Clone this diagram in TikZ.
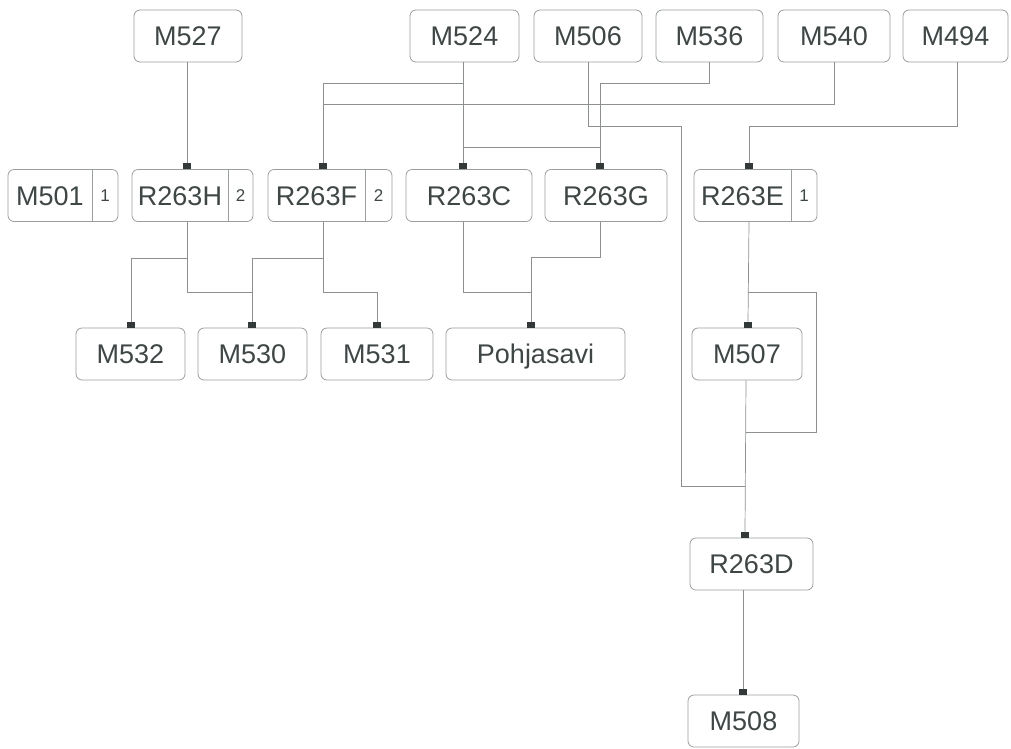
\documentclass[tikz,border=0pt]{standalone}
\usepackage{fontspec}
\setmainfont{Liberation Sans}
\definecolor{txt}{HTML}{3E4646}
\definecolor{edge}{HTML}{9A9E9E}
\definecolor{wire}{HTML}{8C9090}
\definecolor{mk}{HTML}{333838}
\begin{document}
\begin{tikzpicture}[x=1pt,y=-1pt,
  box/.style={draw=edge,line width=0.8pt,rounded corners=6pt,minimum height=52pt,inner sep=0pt,
    font=\fontsize{27}{32}\selectfont,text=txt,text height=19pt,text depth=-2pt},
  num/.style={inner sep=0pt,font=\fontsize{17}{20}\selectfont,text=txt,text height=12pt,text depth=-2pt},
  lbl/.style={inner sep=0pt,font=\fontsize{27}{32}\selectfont,text=txt,text height=19pt,text depth=-2pt},
  divider/.style={draw=edge,line width=0.8pt},
  wirestyle/.style={draw=wire,line width=0.7pt},
  marker/.style={fill=mk,draw=none,minimum width=8pt,minimum height=6pt,inner sep=0pt,anchor=south}]
\useasboundingbox (0,0) rectangle (1011,748);
% top row
\node[box,minimum width=108pt] (M527) at (188,36) {M527};
\node[box,minimum width=109pt] (M524) at (464.5,36) {M524};
\node[box,minimum width=108pt] (M506) at (588,36) {M506};
\node[box,minimum width=107pt] (M536) at (709.5,36) {M536};
\node[box,minimum width=112pt] (M540) at (834,36) {M540};
\node[box,minimum width=105pt] (M494) at (955.5,36) {M494};
% second row
\node[box,minimum width=110pt] (M501) at (63,195.5) {};
\node[lbl] (M501t) at (50,195.5) {M501};
\node[num] (M501n) at (105,195.5) {1};
\draw[divider] (92,169.5) -- (92,221.5);
\node[box,minimum width=121pt] (R263H) at (192.5,195.5) {};
\node[lbl] (R263Ht) at (180,195.5) {R263H};
\node[num] (R263Hn) at (240.5,195.5) {2};
\draw[divider] (228,169.5) -- (228,221.5);
\node[box,minimum width=124pt] (R263F) at (330,195.5) {};
\node[lbl] (R263Ft) at (316.5,195.5) {R263F};
\node[num] (R263Fn) at (378.5,195.5) {2};
\draw[divider] (365,169.5) -- (365,221.5);
\node[box,minimum width=126pt] (R263C) at (469,195.5) {R263C};
\node[box,minimum width=122pt] (R263G) at (606,195.5) {R263G};
\node[box,minimum width=123pt] (R263E) at (755.5,195.5) {};
\node[lbl] (R263Et) at (742.5,195.5) {R263E};
\node[num] (R263En) at (804,195.5) {1};
\draw[divider] (791,169.5) -- (791,221.5);
% third row
\node[box,minimum width=109pt] (M532) at (130.5,354) {M532};
\node[box,minimum width=109pt] (M530) at (252.5,354) {M530};
\node[box,minimum width=112pt] (M531) at (377,354) {M531};
\node[box,minimum width=179pt] (Pohj) at (535.5,354) {Pohjasavi};
\node[box,minimum width=110pt] (M507) at (747,354) {M507};
\node[box,minimum width=123pt] (R263D) at (751.5,564) {R263D};
\node[box,minimum width=111pt] (M508) at (743.5,721) {M508};
% markers
\node[marker] (kH) at (187,169) {};
\node[marker] (kF) at (323,169) {};
\node[marker] (kC) at (463,169) {};
\node[marker] (kG) at (600,169) {};
\node[marker] (kE) at (749,169) {};
\node[marker] (k532) at (131,328) {};
\node[marker] (k530) at (252,328) {};
\node[marker] (k531) at (377,328) {};
\node[marker] (kP) at (531,328) {};
\node[marker] (k507) at (748,328) {};
\node[marker] (kD) at (745,538) {};
\node[marker] (k508) at (743,695) {};
% connectors top
\draw[wirestyle] (M527.south -| kH) -- (kH.north);
\draw[wirestyle] (M524.south -| kC) -- (kC.north);
\draw[wirestyle] (kC.north |- 0,83) -- (kF.north |- 0,83) -- (kF.north);
\draw[wirestyle] (kC.north |- 0,147) -- (kG.north |- 0,147);
\draw[wirestyle] (M536.south) -- (709.5,83) -- (kG.north |- 0,83) -- (kG.north);
\draw[wirestyle] (M540.south) -- (834,104) -- (kF.north |- 0,104);
\draw[wirestyle] (M506.south) -- (588,126) -- (681,126) -- (681,486) -- (kD.north |- 0,486);
\draw[wirestyle] (M494.south -| 957,0) -- (957,126) -- (kE.north |- 0,126) -- (kE.north);
% connectors middle
\draw[wirestyle] (R263H.south -| kH) -- (187,258) -- (k532.north |- 0,258) -- (k532.north);
\draw[wirestyle] (187,258) -- (187,292) -- (k530.north |- 0,292) -- (k530.north);
\draw[wirestyle] (R263F.south -| kF) -- (323,258) -- (k530.north |- 0,258) -- (k530.north);
\draw[wirestyle] (323,258) -- (323,292) -- (k531.north |- 0,292) -- (k531.north);
\draw[wirestyle] (R263C.south -| kC) -- (463,292) -- (kP.north |- 0,292) -- (kP.north);
\draw[wirestyle] (R263G.south -| kG) -- (600,257) -- (kP.north |- 0,257) -- (kP.north);
\draw[wirestyle] (R263E.south -| kE) -- (k507.north);
\draw[wirestyle] (748,292) -- (816,292) -- (816,432) -- (746,432);
\draw[wirestyle] (M507.south -| 746,0) -- (kD.north);
\draw[wirestyle] (R263D.south -| k508) -- (k508.north);
\end{tikzpicture}
\end{document}
